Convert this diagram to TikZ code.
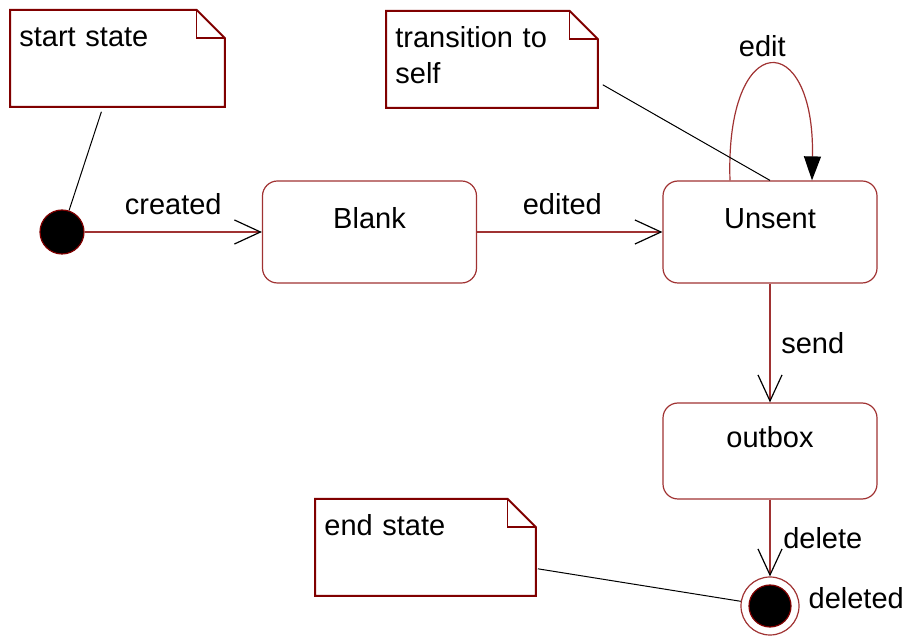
\documentclass[tikz,border=0pt]{standalone}
\usepackage{fontspec}
\setmainfont{Liberation Sans}
\usetikzlibrary{arrows.meta,calc,positioning}
\definecolor{notered}{RGB}{128,0,0}
\definecolor{linered}{RGB}{160,50,50}
\tikzset{state/.style={draw=linered,line width=0.6pt,rounded corners=7.5pt,minimum width=107pt,minimum height=51pt,text height=10pt,text depth=13pt,inner sep=0pt},
  note/.style={anchor=north west,align=left,inner xsep=4.5pt,inner ysep=4pt,text height=14pt,text depth=26pt},
  noteline/.style={draw=notered,line width=1pt},
  fold/.style={draw=notered,line width=0.6pt},
  link/.style={black,line width=0.5pt},
  trans/.style={draw=linered,line width=0.6pt,-{Straight Barb[length=13pt,width=12pt,black,line width=0.6pt]}},
  selfarc/.style={draw=linered,line width=0.6pt,-{Triangle[length=12pt,width=8.5pt,black]}},
  dot/.style={circle,fill=black,draw=notered,line width=0.6pt,inner sep=0pt}}

\begin{document}
\begin{tikzpicture}[x=0.5pt,y=-0.5pt,font=\fontsize{14.5}{18}\selectfont]
\useasboundingbox (0,0) rectangle (906,641);
% notes
\foreach \nm/\pos/\w/\txt in {ns/{10,10}/98pt/{start state},nt/{386,11}/96.5pt/{transition to\\self},ne/{315,499}/101pt/{end state}}{
  \node[note,text width=\w] (\nm) at (\pos) {\txt};
  \draw[noteline] (\nm.south west) |- ($(\nm.north east)+(-14pt,0)$) -- ($(\nm.north east)+(0,-14pt)$) -- (\nm.south east) -- cycle;
  \draw[fold] ($(\nm.north east)+(-14pt,0)$) |- ($(\nm.north east)+(0,-14pt)$);}
% states
\node[dot,minimum size=22pt] (start) at (62,232) {};
\node[state] (Blank) at (369.5,232) {Blank};
\node[state] (Unsent) at (770,232) {Unsent};
\node[state,minimum height=48pt] (outbox) at (770,451) {outbox};
\node[circle,draw=linered,line width=0.6pt,minimum size=29pt,inner sep=0pt] (endst) at (770,606) {};
\node[dot,minimum size=21pt] (endin) at (endst) {};
\node[right=1pt of endst,yshift=4pt] (lbdel) {deleted};
% transitions
\draw[trans] (start) -- (Blank) node[midway,above=5pt] (lbcre) {created};
\draw[trans] (Blank) -- (Unsent) node[pos=0.46,above=5pt] (lbedd) {edited};
\draw[selfarc] ([xshift=-20pt]Unsent.north) .. controls +(-2.5pt,76.5pt) and +(1.5pt,76.5pt) .. ([xshift=21pt]Unsent.north) node[pos=0.5,above=1pt,xshift=-4pt] (lbedit) {edit};
\draw[trans] (Unsent) -- (outbox) node[midway,right=2pt] (lbsend) {send};
\draw[trans] (outbox) -- (endst) node[midway,right=3pt] (lbdelete) {delete};
% note links
\draw[link] ($(ns.south)+(-8pt,-2.5pt)$) -- (start);
\draw[link] ($(nt.south east)+(2.5pt,11.5pt)$) -- (Unsent.north);
\draw[link] ($(ne.south east)+(1pt,13.5pt)$) -- (endst);
\end{tikzpicture}
\end{document}
